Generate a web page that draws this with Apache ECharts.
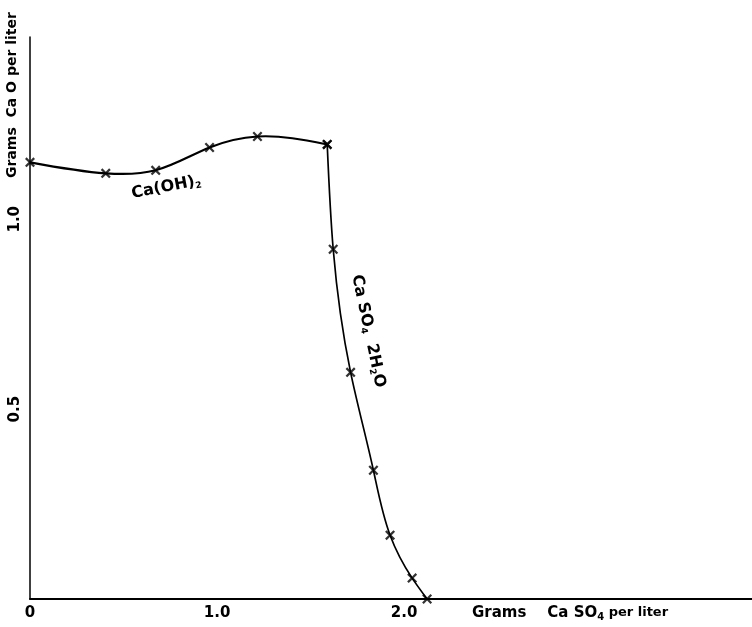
<!DOCTYPE html>
<html>
<head>
<meta charset="utf-8">
<script src="https://cdn.jsdelivr.net/npm/echarts@6/dist/echarts.min.js"></script>
<style>html,body{margin:0;padding:0;background:#fff}#c{width:752px;height:627px}</style>
</head>
<body>
<div id="c"></div>
<script>
// Ca(OH)2 branch: [g CaSO4 per liter, g CaO per liter]
const caOH2X = [0, 0.405, 0.672, 0.96, 1.216, 1.589];
const caOH2Y = [1.15, 1.121, 1.129, 1.189, 1.218, 1.197];
// CaSO4·2H2O branch
const gypsumX = [1.589, 1.621, 1.714, 1.836, 1.925, 2.043, 2.123];
const gypsumY = [1.197, 0.921, 0.597, 0.339, 0.168, 0.055, 0];
// tick labels
const xTickValues = [0, 1, 2];
const xTickLabels = ['0', '1.0', '2.0'];
const yTickValues = [0.5, 1];
const yTickLabels = ['0.5', '1.0'];

const FONT = '"DejaVu Sans", "Liberation Sans", sans-serif';
const cross = 'path://M0,1.6 L1.6,0 L5,3.4 L8.4,0 L10,1.6 L6.6,5 L10,8.4 L8.4,10 L5,6.6 L1.6,10 L0,8.4 L3.4,5 Z';

function pairs(xs, ys) { return xs.map((x, i) => [x, ys[i]]); }

// natural cubic spline (chord-length parameter) through the points, in pixel space
function naturalSecond(t, v) {
  const n = v.length, M = new Array(n).fill(0);
  if (n < 3) return M;
  const a = [], b = [], c = [], r = [];
  for (let i = 1; i < n - 1; i++) {
    const h0 = t[i] - t[i - 1], h1 = t[i + 1] - t[i];
    a.push(h0); b.push(2 * (h0 + h1)); c.push(h1);
    r.push(6 * ((v[i + 1] - v[i]) / h1 - (v[i] - v[i - 1]) / h0));
  }
  const m = b.length;
  for (let i = 1; i < m; i++) { const w = a[i] / b[i - 1]; b[i] -= w * c[i - 1]; r[i] -= w * r[i - 1]; }
  const s = new Array(m);
  s[m - 1] = r[m - 1] / b[m - 1];
  for (let i = m - 2; i >= 0; i--) s[i] = (r[i] - c[i] * s[i + 1]) / b[i];
  for (let i = 0; i < m; i++) M[i + 1] = s[i];
  return M;
}
function splineItem(xs, ys, width) {
  return function (params, api) {
    const p = xs.map((x, i) => api.coord([x, ys[i]]));
    const t = [0];
    for (let i = 1; i < p.length; i++) t.push(t[i - 1] + Math.hypot(p[i][0] - p[i - 1][0], p[i][1] - p[i - 1][1]));
    const px = p.map(q => q[0]), py = p.map(q => q[1]);
    const Mx = naturalSecond(t, px), My = naturalSecond(t, py);
    let d = 'M' + px[0] + ',' + py[0];
    for (let i = 0; i < p.length - 1; i++) {
      const h = t[i + 1] - t[i];
      const d0x = (px[i + 1] - px[i]) / h - h * (2 * Mx[i] + Mx[i + 1]) / 6;
      const d1x = (px[i + 1] - px[i]) / h + h * (Mx[i] + 2 * Mx[i + 1]) / 6;
      const d0y = (py[i + 1] - py[i]) / h - h * (2 * My[i] + My[i + 1]) / 6;
      const d1y = (py[i + 1] - py[i]) / h + h * (My[i] + 2 * My[i + 1]) / 6;
      d += ' C' + (px[i] + d0x * h / 3) + ',' + (py[i] + d0y * h / 3) + ' ' +
        (px[i + 1] - d1x * h / 3) + ',' + (py[i + 1] - d1y * h / 3) + ' ' + px[i + 1] + ',' + py[i + 1];
    }
    return { type: 'path', shape: { pathData: d }, style: { stroke: '#000', fill: null, lineWidth: width } };
  };
}

const chart = echarts.init(document.getElementById('c'));
chart.setOption({
  animation: false,
  backgroundColor: '#fff',
  grid: { left: 30, right: 0, top: 37, bottom: 28, containLabel: false },
  xAxis: {
    type: 'value', min: 0, max: 3.86, interval: 1,
    axisLine: { show: true, lineStyle: { color: '#000', width: 2 } },
    axisTick: { show: false },
    splitLine: { show: false },
    axisLabel: {
      color: '#000', fontFamily: FONT, fontWeight: 'bold', fontSize: 15, margin: 7,
      showMaxLabel: false,
      formatter: v => { const i = xTickValues.indexOf(Math.round(v * 100) / 100); return i >= 0 ? xTickLabels[i] : ''; }
    }
  },
  yAxis: {
    type: 'value', min: 0, max: 1.48, interval: 0.5,
    axisLine: { show: true, lineStyle: { color: '#000', width: 1.5 } },
    axisTick: { show: false },
    splitLine: { show: false },
    axisLabel: {
      color: '#000', fontFamily: FONT, fontWeight: 'bold', fontSize: 15, margin: 7, rotate: 90,
      showMinLabel: false, showMaxLabel: false,
      formatter: v => { const i = yTickValues.indexOf(Math.round(v * 100) / 100); return i >= 0 ? yTickLabels[i] : ''; }
    }
  },
  series: [
    {
      type: 'custom', data: [[caOH2X[0], caOH2Y[0]]], encode: { x: 0, y: 1 },
      renderItem: splineItem(caOH2X, caOH2Y, 2.2), silent: true, z: 2
    },
    {
      type: 'custom', data: [[gypsumX[0], gypsumY[0]]], encode: { x: 0, y: 1 },
      renderItem: splineItem(gypsumX, gypsumY, 1.7), silent: true, z: 2
    },
    {
      type: 'scatter', data: pairs(caOH2X, caOH2Y).concat(pairs(gypsumX, gypsumY)),
      symbol: cross, symbolSize: 10, itemStyle: { color: '#000' }, z: 3
    }
  ],
  graphic: [
    {
      type: 'text', x: 12, y: 178, rotation: Math.PI / 2,
      style: {
        text: 'Grams  Ca O per liter',
        fontFamily: FONT, fontWeight: 'bold', fontSize: 14, fill: '#000',
        textAlign: 'left', textVerticalAlign: 'middle'
      }
    },
    {
      type: 'text', x: 472, y: 604,
      style: {
        text: '{a|Grams    Ca SO}{s|4}{p| per liter}',
        rich: {
          a: { fontFamily: FONT, fontWeight: 'bold', fontSize: 15, fill: '#000' },
          p: { fontFamily: FONT, fontWeight: 'bold', fontSize: 13, fill: '#000' },
          s: { fontFamily: FONT, fontWeight: 'bold', fontSize: 10, fill: '#000', padding: [8, 0, 0, 0] }
        }
      }
    },
    {
      type: 'text', x: 130, y: 185, rotation: 0.19,
      style: {
        text: '{a|Ca(OH)}{s|2}',
        rich: {
          a: { fontFamily: FONT, fontWeight: 'bold', fontSize: 16, fill: '#000' },
          s: { fontFamily: FONT, fontWeight: 'bold', fontSize: 9, fill: '#000', padding: [9, 0, 0, 0] }
        }
      }
    },
    {
      type: 'text', x: 365, y: 273, rotation: -1.36,
      style: {
        text: '{a|Ca SO}{s|4}{a|  2H}{s|2}{a|O}',
        rich: {
          a: { fontFamily: FONT, fontWeight: 'bold', fontSize: 16, fill: '#000' },
          s: { fontFamily: FONT, fontWeight: 'bold', fontSize: 9, fill: '#000', padding: [9, 0, 0, 0] }
        }
      }
    }
  ]
});
</script>
</body>
</html>
